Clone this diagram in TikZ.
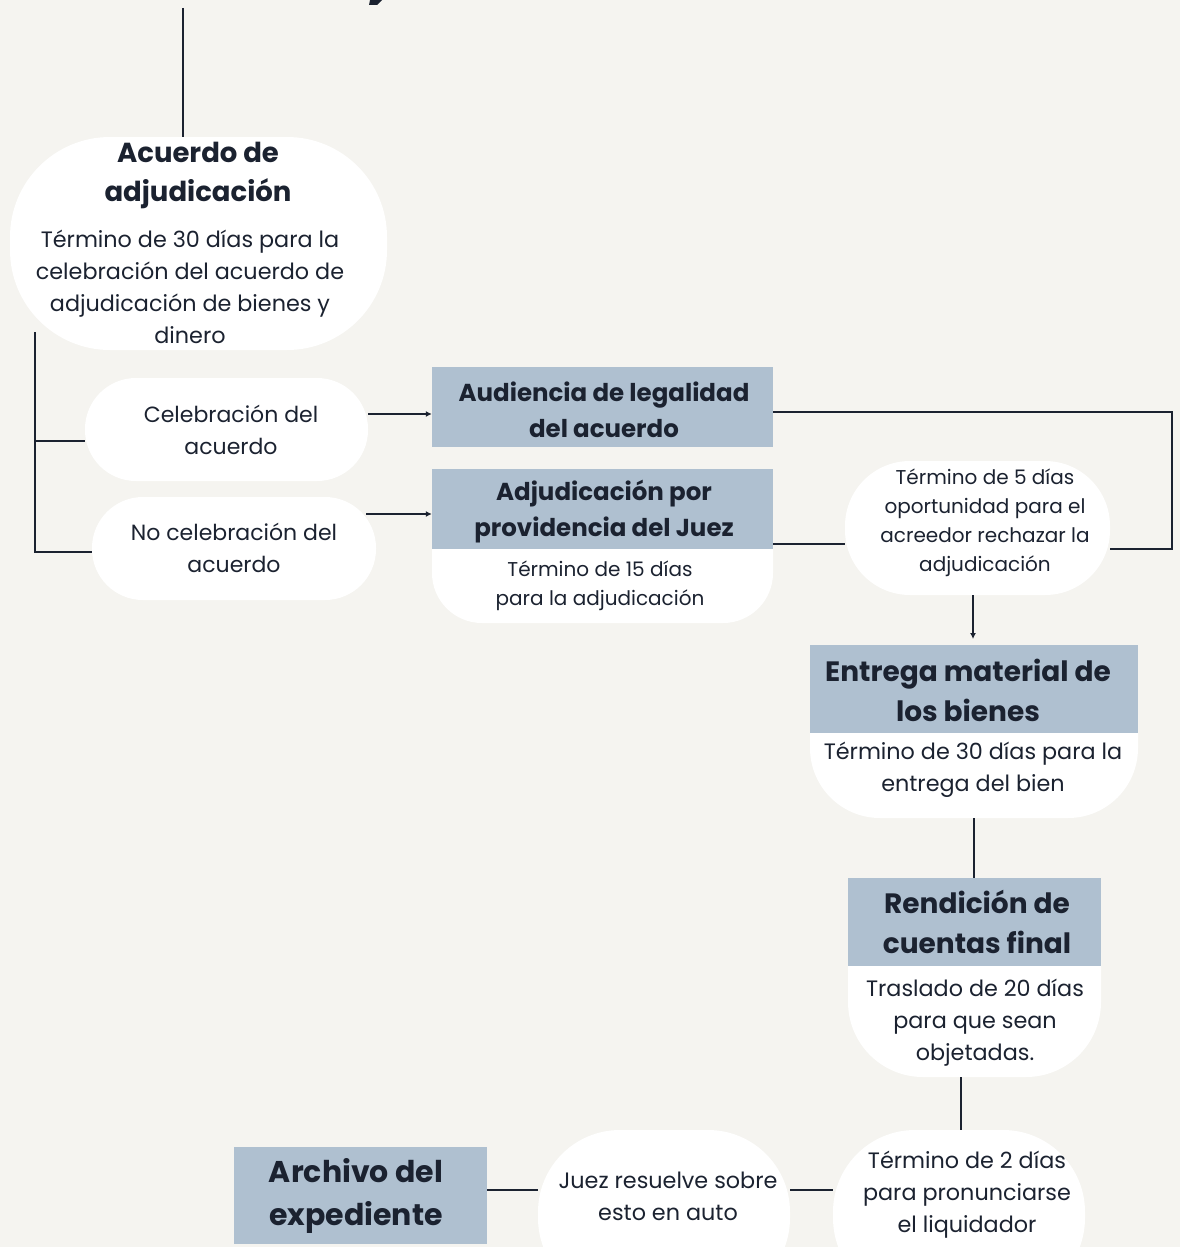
\documentclass[tikz,border=0pt]{standalone}
\usepackage{fontspec}
\setmainfont{Poppins}
\usetikzlibrary{arrows.meta}
\definecolor{bgc}{HTML}{F5F4F0}
\definecolor{hdr}{HTML}{AFC0D0}
\definecolor{ink}{HTML}{1B2230}
\tikzset{
  wbox/.style={draw=none,fill=white,minimum width=#1,inner sep=0pt,rectangle},
  hbox/.style={draw=none,fill=hdr,rectangle,inner sep=0pt},
  txt/.style={text=ink,align=center,inner sep=0pt},
  htxt/.style={txt,font=\fontsize{27.5}{39}\selectfont\bfseries},
  btxt/.style={txt,font=\fontsize{22.3}{32}\selectfont},
  ctxt/.style={txt,font=\fontsize{22}{32.5}\selectfont},
  stxt/.style={txt,font=\fontsize{20}{29}\selectfont},
  conn/.style={draw=ink,line width=2pt},
  arr/.style={conn,-{Latex[length=6pt,width=6pt]}}
}
\begin{document}
\begin{tikzpicture}[x=1pt,y=-1pt]
\fill[bgc] (0,0) rectangle (1180,1247);
\useasboundingbox (0,0) rectangle (1180,1247);
\clip (0,0) rectangle (1180,1247);
% title remnant
\fill[ink] (370,0) -- (382,0) -- (377,5) -- (369,5) -- cycle;
\coordinate (top) at (183,8);
\coordinate (brk) at (35,332);
\coordinate (c1) at (366,514);
\coordinate (c2) at (961,1077);
% shapes
\node[wbox=377pt,minimum height=213pt,rounded corners=100pt] (acu) at (198.5,243.5) {};
\node[wbox=283pt,minimum height=103pt,rounded corners=51pt] (cel) at (226.5,429.5) {};
\node[wbox=284pt,minimum height=103pt,rounded corners=51pt] (nocel) at (234,548.5) {};
\node[hbox,minimum width=341pt,minimum height=80pt] (aud) at (602.5,407) {};
\node[wbox=341pt,minimum height=154pt,rounded corners=50pt] (adjW) at (602.5,546) {};
\node[hbox,minimum width=341pt,minimum height=80pt] (adjB) at (602.5,509) {};
\node[wbox=265pt,minimum height=134pt,rounded corners=65pt] (t5) at (977.5,528) {};
\node[wbox=328pt,minimum height=173pt,rounded corners=70pt] (entW) at (974,731.5) {};
\node[hbox,minimum width=328pt,minimum height=88pt] (entB) at (974,689) {};
\node[wbox=253pt,minimum height=199pt,rounded corners=75pt] (renW) at (974.5,977.5) {};
\node[hbox,minimum width=253pt,minimum height=88pt] (renB) at (974.5,922) {};
\node[wbox=252pt,minimum height=170pt,rounded corners=82pt] (t2) at (959,1215) {};
\node[wbox=252pt,minimum height=170pt,rounded corners=82pt] (juez) at (664,1215) {};
\node[hbox,minimum width=253pt,minimum height=97pt] (arch) at (360.5,1195.5) {};
% texts
\node[htxt] (acuT) at (198,175) {Acuerdo de\\adjudicación};
\node[btxt] (acuB) at (190,287) {Término de 30 días para la\\celebración del acuerdo de\\adjudicación de bienes y\\dinero};
\node[ctxt] (celT) at (231,430) {Celebración del\\acuerdo};
\node[ctxt] (nocelT) at (234,548) {No celebración del\\acuerdo};
\node[htxt,font=\fontsize{24.5}{36}\selectfont\bfseries] (audT) at (604,410) {Audiencia de legalidad\\del acuerdo};
\node[htxt,font=\fontsize{24.5}{36}\selectfont\bfseries] (adjT) at (604,512) {Adjudicación por\\providencia del Juez};
\node[stxt] (adjS) at (600,586) {Término de 15 días\\para la adjudicación};
\node[stxt] (t5T) at (985,523) {Término de 5 días\\oportunidad para el\\acreedor rechazar la\\adjudicación};
\node[htxt,font=\fontsize{28}{40}\selectfont\bfseries] (entT) at (968,690) {Entrega material de\\los bienes};
\node[btxt] (entS) at (973,770) {Término de 30 días para la\\entrega del bien};
\node[htxt,font=\fontsize{28}{40}\selectfont\bfseries] (renT) at (977,922) {Rendición de\\cuentas final};
\node[btxt] (renS) at (975,1023) {Traslado de 20 días\\para que sean\\objetadas.};
\node[btxt] (t2T) at (967,1195) {Término de 2 días\\para pronunciarse\\el liquidador};
\node[btxt] (juezT) at (668,1196) {Juez resuelve sobre\\esto en auto};
\node[htxt,font=\fontsize{30}{43}\selectfont\bfseries] (archT) at (356,1196) {Archivo del\\expediente};
% connectors
\draw[conn] (top) -- (top |- acu.north);
\draw[conn] (brk) -- (35,552) -- (nocel.west |- 0,552);
\draw[conn] (35,441) -- (cel.west |- 0,441);
\draw[arr] (cel.east |- 0,414) -- (aud.west |- 0,414);
\draw[arr] (c1) -- (c1 -| adjB.west);
\draw[conn] (aud.east |- 0,412) -- (1172,412) -- (1172,549) -- (t5.east |- 0,549);
\draw[conn] (adjB.east |- 0,544) -- (t5.west |- 0,544);
\draw[arr,shorten >=6pt] (973,595) -- (973,645);
\draw[conn] (entW.south) -- (entW.south |- renB.north);
\draw[conn] (c2) -- (c2 |- t2.north);
\draw[conn] (t2.west |- 0,1190) -- (juez.east |- 0,1190);
\draw[conn] (juez.west |- 0,1190) -- (arch.east |- 0,1190);
\end{tikzpicture}
\end{document}
